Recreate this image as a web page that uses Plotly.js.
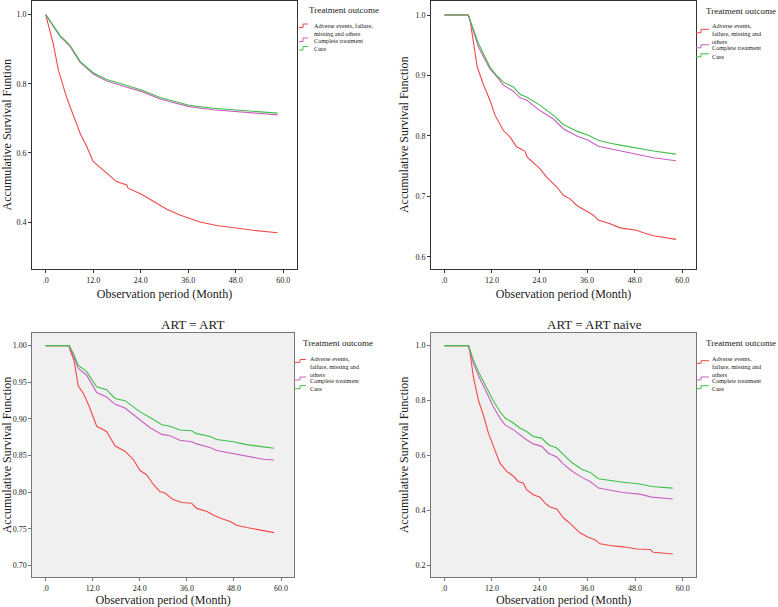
<!DOCTYPE html>
<html>
<head>
<meta charset="utf-8">
<script src="https://cdn.plot.ly/plotly-3.0.1.min.js"></script>
<style>html,body{margin:0;padding:0;background:#fff;}#chart{width:778px;height:607px;}</style>
</head>
<body>
<div id="chart"></div>
<script>
// ---------- Data ----------
const seriesNames = ["Adverse events, failure, missing and others", "Complete treatment", "Cure"];
const xTickVals = [0, 12, 24, 36, 48, 60];
const xTickText = [".0", "12.0", "24.0", "36.0", "48.0", "60.0"];

// Panel 1 (overall)
const p1RedX = [0, 1.9, 3.2, 5.3, 8.7, 10.4, 12, 15.4, 17.9, 20.5, 20.8, 24.2, 27.2, 30.6, 33.9, 36.2, 39, 43.2, 48, 52.4, 58.6];
const p1RedY = [1.0, 0.916, 0.84, 0.76, 0.657, 0.618, 0.575, 0.541, 0.517, 0.507, 0.498, 0.48, 0.46, 0.437, 0.42, 0.41, 0.40, 0.39, 0.382, 0.376, 0.369];
const p1GreenX = [0, 1.9, 3.6, 6.1, 8.7, 12, 15.4, 20.5, 24.2, 28.9, 36.2, 42.3, 48, 58.6];
const p1GreenY = [1.0, 0.969, 0.94, 0.912, 0.865, 0.832, 0.8125, 0.795, 0.782, 0.76, 0.738, 0.729, 0.724, 0.715];
const p1MagX = [0, 1.9, 3.6, 6.1, 8.7, 12, 15.4, 20.5, 24.2, 28.9, 36.2, 42.3, 48, 58.6];
const p1MagY = [1.0, 0.967, 0.938, 0.909, 0.862, 0.828, 0.808, 0.79, 0.778, 0.756, 0.734, 0.725, 0.72, 0.71];

// Panel 2
const p2RedX = [0, 6.05, 6.5, 8.3, 9.8, 11.5, 12.8, 14.9, 16.6, 18.2, 20.3, 20.9, 24.1, 25.8, 28.3, 30, 31.7, 33.4, 36.3, 37.6, 38.8, 41.8, 44.3, 48.5, 50.2, 52.7, 58.4];
const p2RedY = [1.0, 1.0, 0.991, 0.914, 0.886, 0.859, 0.834, 0.809, 0.798, 0.782, 0.775, 0.765, 0.746, 0.732, 0.716, 0.702, 0.696, 0.685, 0.674, 0.669, 0.661, 0.655, 0.648, 0.644, 0.640, 0.635, 0.629];
const p2GreenX = [0, 6.05, 8.6, 11.5, 13.2, 14.9, 17.4, 19.1, 20.8, 24.1, 27.5, 30, 33.4, 36.3, 38.8, 41.8, 45.1, 48.5, 52.7, 58.4];
const p2GreenY = [1.0, 1.0, 0.953, 0.914, 0.90, 0.889, 0.881, 0.869, 0.864, 0.851, 0.834, 0.819, 0.808, 0.801, 0.793, 0.788, 0.784, 0.780, 0.775, 0.770];
const p2MagX = [0, 6.05, 8.6, 11.5, 13.2, 14.9, 17.4, 19.1, 20.8, 24.1, 27.5, 30, 33.4, 36.3, 38.8, 41.8, 45.1, 48.5, 52.7, 58.4];
const p2MagY = [1.0, 1.0, 0.947, 0.911, 0.898, 0.884, 0.874, 0.863, 0.859, 0.842, 0.828, 0.812, 0.80, 0.793, 0.783, 0.779, 0.774, 0.770, 0.764, 0.759];

// Panel 3 (ART = ART)
const p3RedX = [0, 5.95, 6.2, 7.2, 8.3, 9.6, 11.1, 12, 13, 15.5, 16.8, 17.7, 20.2, 22.3, 24, 25.7, 27.4, 29.1, 30.4, 32.5, 34.7, 37.2, 38.5, 41, 42.7, 44.4, 47, 48.7, 51.2, 55.5, 58.2];
const p3RedY = [1.0, 1.0, 0.994, 0.98, 0.945, 0.935, 0.917, 0.905, 0.89, 0.883, 0.871, 0.863, 0.856, 0.845, 0.830, 0.824, 0.811, 0.801, 0.799, 0.790, 0.786, 0.785, 0.778, 0.774, 0.769, 0.765, 0.76, 0.755, 0.752, 0.748, 0.745];
const p3GreenX = [0, 5.95, 7, 8.3, 10.4, 13, 15.5, 17.7, 20.2, 22.3, 24, 26.6, 29.6, 31.7, 34.2, 37.2, 38.5, 41.9, 43.6, 47.8, 51.2, 55.5, 58.2];
const p3GreenY = [1.0, 1.0, 0.99, 0.973, 0.965, 0.944, 0.94, 0.928, 0.925, 0.917, 0.91, 0.902, 0.892, 0.89, 0.885, 0.884, 0.88, 0.876, 0.872, 0.869, 0.865, 0.862, 0.86];
const p3MagX = [0, 5.95, 7, 8.3, 10.4, 13, 15.5, 17.7, 20.2, 22.3, 24, 26.6, 29.6, 31.7, 34.2, 37.2, 38.5, 41.9, 43.6, 47.8, 51.2, 55.5, 58.2];
const p3MagY = [1.0, 1.0, 0.987, 0.969, 0.96, 0.936, 0.93, 0.92, 0.915, 0.906, 0.899, 0.888, 0.879, 0.877, 0.871, 0.869, 0.866, 0.861, 0.857, 0.853, 0.850, 0.845, 0.844];

// Panel 4 (ART = ART naive)
const p4RedX = [0, 6.1, 6.5, 7.3, 8.6, 9.8, 11.1, 12.3, 14, 15.7, 17.4, 18.6, 19.9, 20.7, 22.4, 24.1, 25.3, 26.6, 28.3, 30, 32, 34.1, 36.2, 37.9, 39.2, 41.7, 45, 48.4, 51.8, 52.6, 57.5];
const p4RedY = [1.0, 1.0, 0.972, 0.887, 0.80, 0.748, 0.681, 0.633, 0.572, 0.542, 0.524, 0.505, 0.499, 0.475, 0.457, 0.448, 0.427, 0.412, 0.405, 0.372, 0.348, 0.318, 0.302, 0.293, 0.278, 0.272, 0.267, 0.259, 0.257, 0.247, 0.241];
const p4GreenX = [0, 6.1, 7.3, 8.6, 10.7, 12.3, 14, 15.3, 17.4, 19, 20.7, 22.4, 24.5, 26.2, 28.3, 30, 32, 34.6, 36.7, 38.8, 41.7, 45, 49.2, 52.2, 57.5];
const p4GreenY = [1.0, 1.0, 0.948, 0.905, 0.845, 0.80, 0.76, 0.736, 0.718, 0.70, 0.687, 0.669, 0.663, 0.639, 0.627, 0.602, 0.575, 0.55, 0.538, 0.515, 0.508, 0.502, 0.496, 0.487, 0.481];
const p4MagX = [0, 6.1, 7.3, 8.6, 10.7, 12.3, 14, 15.3, 17.4, 19, 20.7, 22.4, 24.5, 26.2, 28.3, 30, 32, 34.6, 36.7, 38.8, 41.7, 45, 49.2, 52.2, 57.5];
const p4MagY = [1.0, 1.0, 0.936, 0.89, 0.827, 0.778, 0.736, 0.711, 0.693, 0.675, 0.657, 0.642, 0.633, 0.608, 0.594, 0.568, 0.544, 0.52, 0.505, 0.481, 0.473, 0.465, 0.459, 0.448, 0.441];

// Y tick labels per panel
const p1YTicks = [0.4, 0.6, 0.8, 1.0], p1YText = ["0.4", "0.6", "0.8", "1.0"];
const p2YTicks = [0.6, 0.7, 0.8, 0.9, 1.0], p2YText = ["0.6", "0.7", "0.8", "0.9", "1.0"];
const p3YTicks = [0.70, 0.75, 0.80, 0.85, 0.90, 0.95, 1.00], p3YText = ["0.70", "0.75", "0.80", "0.85", "0.90", "0.95", "1.00"];
const p4YTicks = [0.2, 0.4, 0.6, 0.8, 1.0], p4YText = ["0.2", "0.4", "0.6", "0.8", "1.0"];

// ---------- Styling ----------
const W = 778, H = 607;
const RED = "#f24848", MAG = "#c960c0", GRN = "#3fbf4a";
const SERIF = "Liberation Serif, DejaVu Serif, serif";
const TXT = "#1a1a1a";
const px = v => v / W, py = v => 1 - v / H;

function tr(x, y, color, name, xa, ya) {
  return {x: x, y: y, type: "scatter", mode: "lines", name: name, showlegend: false,
    xaxis: xa, yaxis: ya, line: {color: color, width: 1.1, shape: "linear"}, hoverinfo: "x+y"};
}
const traces = [
  tr(p1RedX, p1RedY, RED, seriesNames[0], "x", "y"),
  tr(p1MagX, p1MagY, MAG, seriesNames[1], "x", "y"),
  tr(p1GreenX, p1GreenY, GRN, seriesNames[2], "x", "y"),
  tr(p2RedX, p2RedY, RED, seriesNames[0], "x2", "y2"),
  tr(p2MagX, p2MagY, MAG, seriesNames[1], "x2", "y2"),
  tr(p2GreenX, p2GreenY, GRN, seriesNames[2], "x2", "y2"),
  tr(p3RedX, p3RedY, RED, seriesNames[0], "x3", "y3"),
  tr(p3MagX, p3MagY, MAG, seriesNames[1], "x3", "y3"),
  tr(p3GreenX, p3GreenY, GRN, seriesNames[2], "x3", "y3"),
  tr(p4RedX, p4RedY, RED, seriesNames[0], "x4", "y4"),
  tr(p4MagX, p4MagY, MAG, seriesNames[1], "x4", "y4"),
  tr(p4GreenX, p4GreenY, GRN, seriesNames[2], "x4", "y4")
];

function xax(dom, range, anchor, lc) {
  return {domain: dom, range: range, anchor: anchor, tickvals: xTickVals, ticktext: xTickText,
    showline: true, mirror: true, linecolor: lc, linewidth: 1, ticks: "outside", ticklen: 3, tickcolor: lc,
    showgrid: false, zeroline: false, tickfont: {family: SERIF, size: 8, color: TXT},
    title: {text: "Observation period (Month)", font: {family: SERIF, size: 12, color: TXT}, standoff: 6}};
}
function yax(dom, range, anchor, tv, tt, title, lc) {
  return {domain: dom, range: range, anchor: anchor, tickvals: tv, ticktext: tt,
    showline: true, mirror: true, linecolor: lc, linewidth: 1, ticks: "outside", ticklen: 3, tickcolor: lc,
    showgrid: false, zeroline: false, tickfont: {family: SERIF, size: 8, color: TXT},
    title: {text: title, font: {family: SERIF, size: 12, color: TXT}, standoff: 4}};
}

const topDom = [py(269), py(0.5)], botDom = [py(577.3), py(332.7)];
const layout = {
  width: W, height: H, autosize: false, margin: {l: 0, r: 0, t: 0, b: 0},
  paper_bgcolor: "#fff", plot_bgcolor: "rgba(0,0,0,0)", showlegend: false,
  font: {family: SERIF, color: TXT},
  xaxis: xax([px(32), px(297)], [-3.46, 63.5], "y", "#333"),
  yaxis: yax(topDom, [0.264, 1.041], "x", p1YTicks, p1YText, "Accumulative Survival Funtion", "#333"),
  xaxis2: xax([px(431), px(696)], [-3.36, 63.45], "y2", "#333"),
  yaxis2: yax(topDom, [0.580, 1.024], "x2", p2YTicks, p2YText, "Accumulative Survival Function", "#333"),
  xaxis3: xax([px(32.3), px(294)], [-3.42, 63.3], "y3", "#777"),
  yaxis3: yax(botDom, [0.684, 1.0177], "x3", p3YTicks, p3YText, "Accumulative Survival Function", "#777"),
  xaxis4: xax([px(431), px(696.3)], [-3.35, 63.42], "y4", "#777"),
  yaxis4: yax(botDom, [0.156, 1.047], "x4", p4YTicks, p4YText, "Accumulative Survival Function", "#777"),
  shapes: [], annotations: []
};

// grey plot backgrounds for lower panels
["3", "4"].forEach(k => layout.shapes.push({type: "rect", xref: "x" + k + " domain", yref: "y" + k + " domain",
  x0: 0, x1: 1, y0: 0, y1: 1, fillcolor: "#f0f0f0", line: {width: 0}, layer: "below"}));

// text helper (paper pixels)
function ann(text, x, y, size, xanchor, yanchor) {
  layout.annotations.push({text: text, xref: "paper", yref: "paper", x: px(x), y: py(y),
    xanchor: xanchor || "left", yanchor: yanchor || "middle", showarrow: false, align: "left",
    font: {family: SERIF, size: size, color: TXT}});
}
ann("ART = ART", 192, 325, 13, "center");
ann("ART = ART naive", 594.5, 325, 13, "center");

// legends (per panel)
function glyph(x0, xm, x1, yLow, yHigh, color) {
  layout.shapes.push({type: "path", xref: "paper", yref: "paper",
    path: `M ${px(x0)},${py(yLow)} L ${px(xm)},${py(yLow)} L ${px(xm)},${py(yHigh)} L ${px(x1)},${py(yHigh)}`,
    line: {color: color, width: 1}});
}
function legend(o) {
  ann("Treatment outcome", o.titleX, o.titleY, 9);
  ann(o.redText, o.textX, o.redTop, 6.2, "left", "top");
  ann(seriesNames[1], o.textX, o.magText, 6.2);
  ann(seriesNames[2], o.textX, o.grnText, 6.2);
  glyph(o.g0, o.gm, o.g1, o.redG[0], o.redG[1], RED);
  glyph(o.g0, o.gm, o.g1, o.magG[0], o.magG[1], MAG);
  glyph(o.g0, o.gm, o.g1, o.grnG[0], o.grnG[1], GRN);
}
legend({titleX: 307, titleY: 10, textX: 312, redText: "Adverse events, failure,<br>missing and others", redTop: 20,
  magText: 40.5, grnText: 49, g0: 299, gm: 303, g1: 308, redG: [27.5, 24], magG: [41.5, 38], grnG: [50, 46.5]});
legend({titleX: 704, titleY: 11, textX: 710, redText: "Adverse events,<br>failure, missing and<br>others", redTop: 19.5,
  magText: 47.8, grnText: 56.5, g0: 696, gm: 701, g1: 709, redG: [32.7, 29.3], magG: [47.8, 44.8], grnG: [56.8, 53.8]});
legend({titleX: 301, titleY: 342.7, textX: 307.5, redText: "Adverse events,<br>failure, missing and<br>others", redTop: 353,
  magText: 380, grnText: 388.7, g0: 294.5, gm: 300, g1: 306, redG: [362.3, 359.5], magG: [380, 377], grnG: [388.7, 385.7]});
legend({titleX: 704, titleY: 342.7, textX: 710, redText: "Adverse events,<br>failure, missing and<br>others", redTop: 353,
  magText: 380, grnText: 388.7, g0: 696.5, gm: 701, g1: 709, redG: [363.3, 360.7], magG: [380, 377], grnG: [388.7, 385.7]});

Plotly.newPlot("chart", traces, layout, {displayModeBar: false, staticPlot: true});
</script>
</body>
</html>
